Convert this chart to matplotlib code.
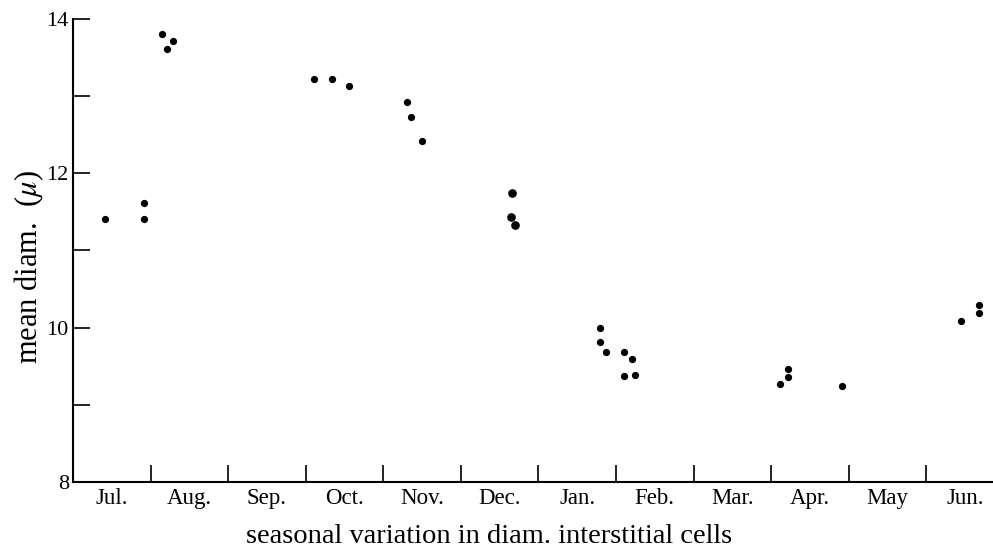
import numpy as np
import matplotlib
matplotlib.use("Agg")
from matplotlib import pyplot as plt

plt.rcParams['font.family'] = ['Liberation Serif', 'DejaVu Serif']
plt.rcParams['mathtext.fontset'] = 'stix'

months = ["Jul.", "Aug.", "Sep.", "Oct.", "Nov.", "Dec.",
          "Jan.", "Feb.", "Mar.", "Apr.", "May", "Jun."]

# sample time in months from start of July, mean diameter in micron
sample_month = [0.41, 0.91, 0.91, 1.15, 1.21, 1.29,
                3.11, 3.34, 3.56,
                4.31, 4.36, 4.50,
                6.79, 6.79, 6.87, 7.10, 7.20, 7.10, 7.25,
                9.11, 9.22, 9.22, 9.91,
                11.45, 11.68, 11.68]
mean_diam = [11.41, 11.61, 11.41, 13.81, 13.61, 13.71,
             13.22, 13.22, 13.13,
             12.92, 12.73, 12.42,
             9.99, 9.81, 9.69, 9.69, 9.59, 9.38, 9.39,
             9.27, 9.47, 9.36, 9.25,
             10.09, 10.30, 10.19]

dec_month = [5.66, 5.65, 5.70]
dec_diam = [11.74, 11.44, 11.33]

fig = plt.figure(figsize=(9.93, 5.48), dpi=100)
ax = fig.add_axes([0.0735, 0.1204, 0.9265, 0.845])

ax.plot(sample_month, mean_diam, 'o', color='black', markersize=4.2)
ax.plot(dec_month, dec_diam, 'o', color='black', markersize=5.2)

ax.set_xlim(0, 11.86)
ax.set_ylim(8, 14)

ax.spines['top'].set_visible(False)
ax.spines['right'].set_visible(False)
ax.spines['left'].set_linewidth(1.5)
ax.spines['bottom'].set_linewidth(1.5)

ax.set_xticks(np.arange(1, 12))
ax.set_xticklabels([])
ax.set_xticks(np.arange(len(months)) + 0.5, minor=True)
ax.set_xticklabels(months, minor=True, fontsize=16.5)
ax.tick_params(axis='x', which='major', direction='in', length=12, width=1.2)
ax.tick_params(axis='x', which='minor', length=0, pad=4)

ax.set_yticks([8, 10, 12, 14])
ax.set_yticklabels(["8", "10", "12", "14"], fontsize=16)
ax.set_yticks([9, 11, 13], minor=True)
ax.tick_params(axis='y', which='both', direction='in', length=12, width=1.2, pad=3)

ax.set_xlabel("seasonal variation in diam. interstitial cells", fontsize=20.5)
ax.xaxis.set_label_coords(0.452, -0.117)
ax.xaxis.label.set_va('center')
ax.set_ylabel(r"mean diam.  ($\mu$)", fontsize=22)
ax.yaxis.set_label_coords(-0.048, 0.465)
ax.yaxis.label.set_va('center')

fig.savefig("out.png", dpi=100)
